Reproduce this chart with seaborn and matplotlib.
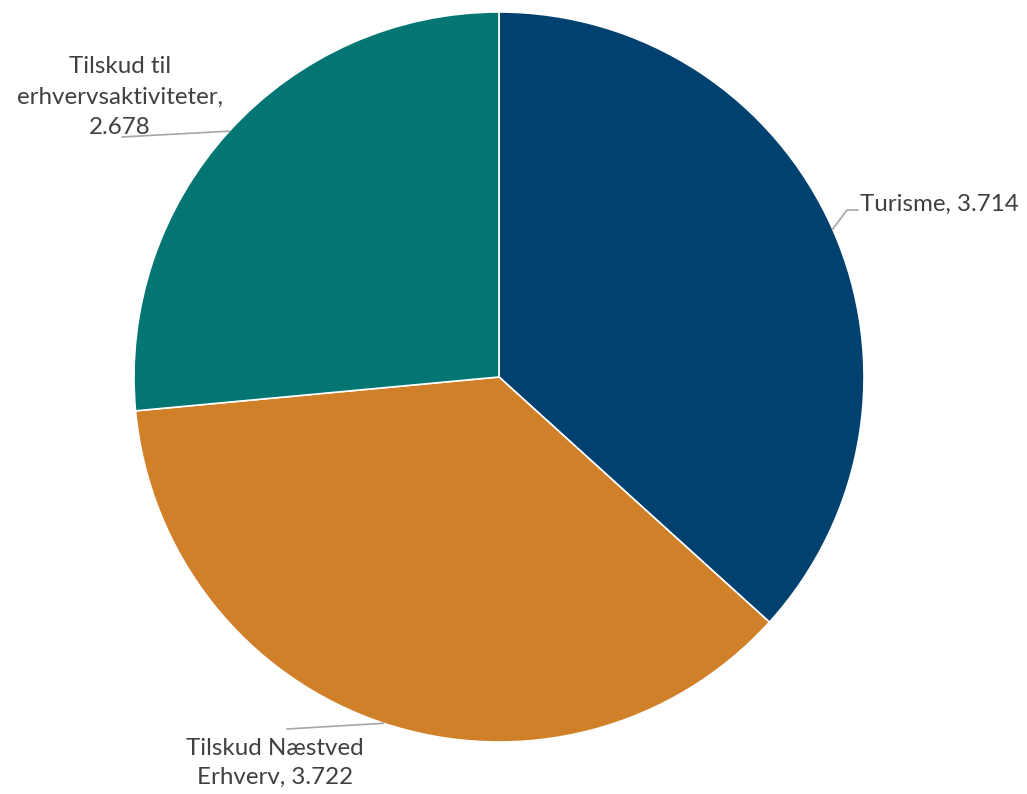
import numpy as np
import matplotlib
matplotlib.use("Agg")
import matplotlib.pyplot as plt
import seaborn as sns

# Fordeling af midler (beløb i mio. kr.)
categories = ["Turisme", "Tilskud Næstved\nErhverv", "Tilskud til\nerhvervsaktiviteter,"]
values = [3.714, 3.722, 2.678]
colors = ["#004170", "#D08028", "#037673"]

sns.set_theme(style="white")
plt.rcParams["font.family"] = ["Lato", "DejaVu Sans"]

W, H = 1027, 794
fig = plt.figure(figsize=(W / 100, H / 100), dpi=100)
ax = fig.add_axes([0, 0, 1, 1])

cx, cy, r = 499, H - 377, 365
wedges, _ = ax.pie(values, colors=colors, startangle=90, counterclock=False,
                   center=(cx, cy), radius=r, frame=True,
                   wedgeprops=dict(edgecolor="white", linewidth=1.2))
ax.set_xlim(0, W)
ax.set_ylim(0, H)
ax.set_aspect("equal")
ax.axis("off")

text_color = "#404040"
line_color = "#A6A6A6"
fs = 17.4
ls = 1.58

def anchor(w):
    ang = np.deg2rad((w.theta1 + w.theta2) / 2)
    return cx + r * np.cos(ang), cy + r * np.sin(ang)

# Turisme
x0, y0 = anchor(wedges[0])
ax.plot([x0, 847, 858], [y0, H - 210, H - 210], color=line_color, lw=1.2)
ax.text(860, H - 204, f"Turisme, {values[0]:.3f}", ha="left", va="center",
        fontsize=fs, color=text_color)

# Tilskud Næstved Erhverv
x0, y0 = anchor(wedges[1])
ax.plot([x0, 287], [y0, H - 729], color=line_color, lw=1.2)
ax.text(275, H - 763, f"Tilskud Næstved\nErhverv, {values[1]:.3f}", ha="center",
        va="center", fontsize=fs, color=text_color, linespacing=1.5)

# Tilskud til erhvervsaktiviteter
x0, y0 = anchor(wedges[2])
ax.plot([x0, 122], [y0, H - 137], color=line_color, lw=1.2)
ax.text(120, H - 97, f"Tilskud til\nerhvervsaktiviteter,\n{values[2]:.3f}", ha="center",
        va="center", fontsize=fs, color=text_color, linespacing=ls)

fig.savefig("out.png", dpi=100, facecolor="white")
